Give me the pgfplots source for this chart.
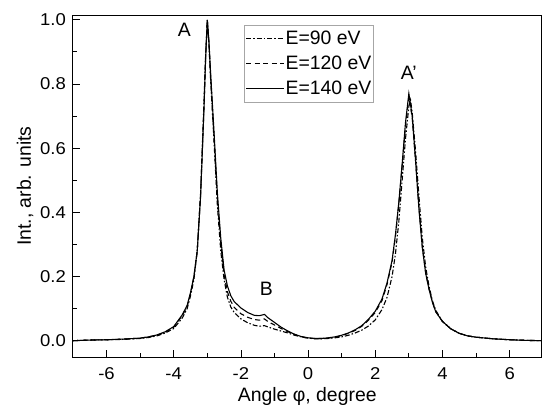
\documentclass[border=0pt]{standalone}
\usepackage{fontspec}
\setmainfont{Liberation Sans}
\newfontfamily\tickfont{Liberation Sans}[FakeStretch=1.08]
\usepackage{pgfplots}
\pgfplotsset{compat=1.18}
\usepackage{pgfplotstable}

\pgfplotstableread{
x y
-7.0 0.000
-6.5 0.002
-6.0 0.003
-5.5 0.005
-5.0 0.008
-4.75 0.012
-4.5 0.018
-4.25 0.028
-4.0 0.044
-3.75 0.080
-3.6 0.110
-3.5 0.150
-3.4 0.200
-3.3 0.280
-3.2 0.450
-3.1 0.720
-3.05 0.880
-3.0 1.000
-2.95 0.930
-2.9 0.830
-2.8 0.650
-2.7 0.460
-2.6 0.320
-2.5 0.220
-2.4 0.170
-2.3 0.140
-2.2 0.122
-2.0 0.102
-1.8 0.088
-1.6 0.079
-1.45 0.078
-1.3 0.082
-1.2 0.072
-1.0 0.057
-0.8 0.042
-0.6 0.030
-0.4 0.020
-0.2 0.013
0.0 0.009
0.2 0.007
0.4 0.007
0.6 0.009
0.8 0.012
1.0 0.017
1.2 0.024
1.4 0.034
1.6 0.047
1.8 0.067
2.0 0.092
2.2 0.130
2.35 0.180
2.5 0.250
2.6 0.330
2.7 0.430
2.8 0.550
2.9 0.680
3.0 0.770
3.1 0.700
3.2 0.560
3.3 0.410
3.4 0.290
3.5 0.210
3.6 0.160
3.7 0.120
3.8 0.090
4.0 0.060
4.25 0.037
4.5 0.023
4.75 0.015
5.0 0.011
5.5 0.006
6.0 0.003
6.5 0.001
7.0 0.000
}\solid

\pgfplotstableread{
x y
-7.0 0.000
-6.5 0.002
-6.0 0.003
-5.5 0.005
-5.0 0.008
-4.75 0.012
-4.5 0.017
-4.25 0.027
-4.0 0.042
-3.75 0.077
-3.6 0.107
-3.5 0.147
-3.4 0.198
-3.3 0.280
-3.2 0.455
-3.1 0.725
-3.05 0.885
-3.0 1.000
-2.95 0.925
-2.9 0.820
-2.8 0.635
-2.7 0.440
-2.6 0.305
-2.5 0.205
-2.4 0.152
-2.3 0.123
-2.2 0.104
-2.0 0.084
-1.8 0.073
-1.6 0.066
-1.45 0.064
-1.3 0.068
-1.2 0.060
-1.0 0.049
-0.8 0.038
-0.6 0.028
-0.4 0.019
-0.2 0.012
0.0 0.008
0.2 0.007
0.4 0.007
0.6 0.008
0.8 0.011
1.0 0.016
1.2 0.023
1.4 0.032
1.6 0.045
1.8 0.064
2.0 0.088
2.2 0.125
2.35 0.175
2.5 0.245
2.6 0.325
2.7 0.425
2.8 0.545
2.9 0.670
3.0 0.760
3.1 0.695
3.2 0.560
3.3 0.415
3.4 0.295
3.5 0.213
3.6 0.162
3.7 0.121
3.8 0.091
4.0 0.060
4.25 0.037
4.5 0.023
4.75 0.015
5.0 0.011
5.5 0.006
6.0 0.003
6.5 0.001
7.0 0.000
}\dashed

\pgfplotstableread{
x y
-7.0 0.000
-6.5 0.002
-6.0 0.003
-5.5 0.004
-5.0 0.007
-4.75 0.010
-4.5 0.015
-4.25 0.024
-4.0 0.038
-3.75 0.070
-3.6 0.100
-3.5 0.140
-3.4 0.190
-3.3 0.280
-3.2 0.460
-3.1 0.740
-3.05 0.890
-3.0 1.000
-2.95 0.920
-2.9 0.810
-2.8 0.620
-2.7 0.420
-2.6 0.280
-2.5 0.190
-2.4 0.135
-2.3 0.105
-2.2 0.088
-2.0 0.068
-1.8 0.056
-1.6 0.048
-1.45 0.045
-1.3 0.047
-1.2 0.043
-1.0 0.036
-0.8 0.030
-0.6 0.024
-0.4 0.017
-0.2 0.012
0.0 0.008
0.2 0.006
0.4 0.006
0.6 0.007
0.8 0.009
1.0 0.012
1.2 0.017
1.4 0.024
1.6 0.033
1.8 0.046
2.0 0.065
2.2 0.097
2.35 0.135
2.5 0.200
2.6 0.270
2.7 0.370
2.8 0.500
2.9 0.630
3.0 0.730
3.05 0.750
3.1 0.710
3.2 0.590
3.3 0.450
3.4 0.320
3.5 0.230
3.6 0.170
3.7 0.125
3.8 0.095
4.0 0.060
4.25 0.037
4.5 0.023
4.75 0.015
5.0 0.011
5.5 0.006
6.0 0.003
6.5 0.001
7.0 0.000
}\dashdot

\begin{document}
\begin{tikzpicture}
\begin{axis}[
  name=ax,
  scale only axis,
  width=469bp, height=342.7bp,
  xmin=-7, xmax=6.95,
  ymin=-0.052, ymax=1.015,
  xtick={-6,-4,...,6},
  ytick={0,0.2,...,1.0},
  minor x tick num=1,
  minor y tick num=1,
  tick pos=left,
  tick align=inside,
  major tick length=7bp,
  minor tick length=4.5bp,
  axis line style={line width=0.9bp},
  every tick/.style={line width=0.8bp, black},
  /pgf/number format/assume math mode=true,
  tick label style={font=\tickfont\fontsize{17.2}{17.5}\selectfont},
  yticklabel style={xshift=-3.5bp, /pgf/number format/.cd, fixed, fixed zerofill, precision=1},
  xticklabel style={yshift=-6.5bp},
  xlabel={Angle φ, degree},
  ylabel={Int., arb. units},
  every axis x label/.style={at={(axis description cs:0.5,-0.1293)}, anchor=base,
    font=\fontsize{19.5}{20}\selectfont},
  every axis y label/.style={at={(axis description cs:-0.1023,0.5)}, rotate=90, anchor=center,
    font=\fontsize{19.5}{20}\selectfont},
  legend style={at={(axis cs:-1.90,0.984)}, anchor=north west, draw=gray!70,
    line width=0.6bp,
    font=\fontsize{19.5}{20}\selectfont, inner xsep=1bp, inner ysep=1bp,
    nodes={inner ysep=5bp, inner xsep=1bp},
    row sep=0bp},
  legend cell align=left,
  legend image code/.code={\draw[#1, line width=1.1bp] (0bp,0bp) -- (38bp,0bp);},
  /tikz/every even column/.append style={column sep=0bp},
]
\addplot[black, line width=1.1bp, dash pattern=on 5bp off 2bp on 1.5bp off 2bp] table {\dashdot};
\addlegendentry{E=90 eV}
\addplot[black, line width=1.1bp, dash pattern=on 5bp off 3.5bp] table {\dashed};
\addlegendentry{E=120 eV}
\addplot[black, line width=1.1bp] table {\solid};
\addlegendentry{E=140 eV}
\node[font=\fontsize{19.5}{20}\selectfont] at (axis cs:-3.68,0.969) {A};
\node[font=\fontsize{19.5}{20}\selectfont] at (axis cs:-1.24,0.162) {B};
\node[font=\fontsize{19.5}{20}\selectfont] at (axis cs:3.0,0.835) {A'};
\end{axis}
\path ([shift={(-73bp,-49.3bp)}]ax.south west) rectangle ([shift={(0bp,15bp)}]ax.north east);
\end{tikzpicture}
\end{document}
